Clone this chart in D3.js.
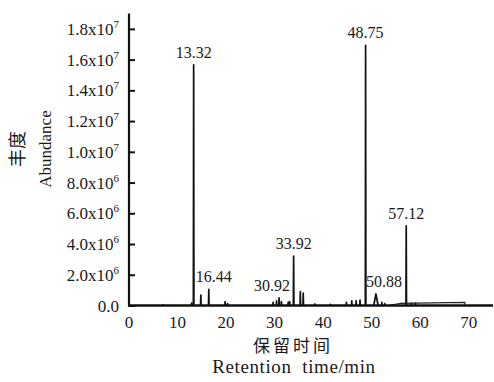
<!DOCTYPE html>
<html>
<head>
<meta charset="utf-8">
<script src="https://cdn.jsdelivr.net/npm/d3@7"></script>
<style>
  body { margin: 0; background: #fff; }
  text { fill: #1a1a1a; }
  .serif { font-family: 'Liberation Serif', 'DejaVu Serif', serif; }
  .cjk { font-family: 'Noto Sans CJK SC', sans-serif; }
</style>
</head>
<body>
<svg width="494" height="382"></svg>
<script>
// retention time (min) and abundance (x10^6) of each peak
const peakTimes   = [7.0, 12.9, 13.32, 14.8, 16.44, 19.8, 20.3, 29.7, 30.4, 30.92, 31.4, 32.8, 33.1, 33.92, 35.3, 35.9, 38.3, 41.5, 44.8, 45.9, 46.8, 47.6, 48.75, 50.88, 52.1, 52.7, 57.12, 58.2, 59.0];
const peakHeights = [0.05, 0.15, 15.66, 0.68, 1.05, 0.25, 0.12, 0.2, 0.3, 0.5, 0.25, 0.2, 0.25, 3.22, 0.9, 0.8, 0.1, 0.08, 0.2, 0.3, 0.3, 0.35, 16.93, 0.75, 0.2, 0.12, 5.18, 0.15, 0.15];
const broadPeaks = [50.88];

// raised baseline at the end of the run
const driftTimes  = [53.4, 56.0, 69.2, 69.2];
const driftLevels = [0.0, 0.14, 0.2, 0.0];

const labelTimes = [13.32, 16.44, 30.92, 33.92, 48.75, 50.88, 57.12];
const labelShift = {16.44: 5, 30.92: -7, 50.88: 8};

const yTicks = [0, 2, 4, 6, 8, 10, 12, 14, 16, 18];
const xTicks = [0, 10, 20, 30, 40, 50, 60, 70];

const svg = d3.select('svg');

const x = d3.scaleLinear().domain([0, 75]).range([129, 493]);
const y = d3.scaleLinear().domain([0, 19]).range([305.5, 13.5]);

// spikes
const path = d3.path();
peakTimes.forEach((t, i) => {
  const w = broadPeaks.includes(t) ? 0.45 : 0.06;
  path.moveTo(x(t - w), y(0));
  path.lineTo(x(t), y(peakHeights[i]));
  path.lineTo(x(t + w), y(0));
});
svg.append('path')
  .attr('d', path.toString())
  .attr('fill', 'none')
  .attr('stroke', '#111')
  .attr('stroke-width', 1.7)
  .attr('stroke-linejoin', 'round');

svg.append('path')
  .attr('d', d3.line()(driftTimes.map((t, i) => [x(t), y(driftLevels[i])])))
  .attr('fill', 'none')
  .attr('stroke', '#222')
  .attr('stroke-width', 1.1);

// axes
const yAxis = svg.append('g')
  .attr('transform', `translate(${x(0)},0)`)
  .call(d3.axisRight(y).tickValues(yTicks).tickSize(6).tickFormat(''));
yAxis.select('.domain').remove();
yAxis.selectAll('line').attr('stroke', '#111').attr('stroke-width', 2);

svg.append('line')
  .attr('x1', x(0)).attr('x2', x(0))
  .attr('y1', y(19)).attr('y2', y(0) + 1)
  .attr('stroke', '#111').attr('stroke-width', 2.2);
svg.append('line')
  .attr('x1', x(0) - 1).attr('x2', x(75))
  .attr('y1', y(0)).attr('y2', y(0))
  .attr('stroke', '#111').attr('stroke-width', 2.6);

// y tick labels
const yl = svg.append('g').selectAll('text')
  .data(yTicks)
  .enter().append('text')
    .attr('class', 'serif')
    .attr('x', 119)
    .attr('y', d => y(d) + 6)
    .attr('text-anchor', 'end')
    .attr('font-size', 17);
yl.each(function(d) {
  const t = d3.select(this);
  if (d === 0) { t.text('0.0'); return; }
  const exp = d >= 10 ? 7 : 6;
  const mant = d >= 10 ? d / 10 : d;
  t.append('tspan').text(mant.toFixed(1) + 'x10');
  t.append('tspan').attr('dy', -7).attr('font-size', 11).text(exp);
});

svg.append('g').selectAll('text')
  .data(xTicks)
  .enter().append('text')
    .attr('class', 'serif')
    .attr('x', d => x(d))
    .attr('y', 328)
    .attr('text-anchor', 'middle')
    .attr('font-size', 17)
    .text(d => d);

// peak labels
svg.append('g').selectAll('text')
  .data(labelTimes)
  .enter().append('text')
    .attr('class', 'serif')
    .attr('x', d => x(d) + (labelShift[d] || 0))
    .attr('y', d => y(peakHeights[peakTimes.indexOf(d)]) - 7)
    .attr('text-anchor', 'middle')
    .attr('font-size', 16)
    .text(d => d.toFixed(2));

// axis titles
svg.append('text')
  .attr('class', 'cjk')
  .attr('x', 293).attr('y', 352)
  .attr('text-anchor', 'middle')
  .attr('font-size', 17)
  .attr('letter-spacing', 3)
  .text('保留时间');
svg.append('text')
  .attr('class', 'serif')
  .attr('x', 294).attr('y', 373)
  .attr('text-anchor', 'middle')
  .attr('font-size', 19)
  .attr('letter-spacing', 0.6)
  .style('white-space', 'pre')
  .text('Retention  time/min');

svg.append('text')
  .attr('class', 'serif')
  .attr('transform', 'translate(51,149) rotate(-90)')
  .attr('text-anchor', 'middle')
  .attr('font-size', 17)
  .text('Abundance');
svg.append('text')
  .attr('class', 'cjk')
  .attr('transform', 'translate(24,149) rotate(-90)')
  .attr('text-anchor', 'middle')
  .attr('font-size', 18)
  .text('丰度');
</script>
</body>
</html>
